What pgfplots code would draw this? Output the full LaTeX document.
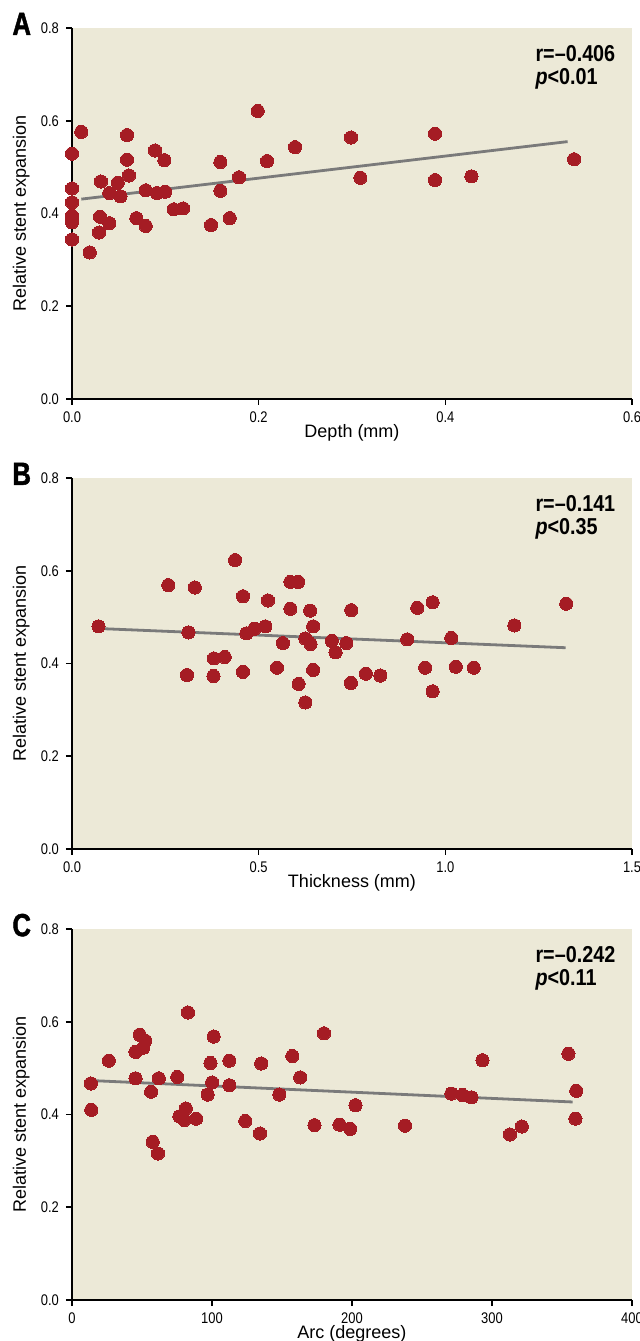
\documentclass[border=0pt]{standalone}
\usepackage{fontspec}
\setmainfont{Liberation Sans}
\newfontfamily\tickfont[FakeStretch=0.84]{Liberation Sans}
\newfontfamily\statfont[FakeStretch=0.86]{Liberation Sans}
\newfontfamily\letterfont[FakeStretch=0.8, FakeBold=1.5]{Liberation Sans}
\usepackage{pgfplots}
\pgfplotsset{compat=1.18}
\definecolor{bg}{RGB}{236,233,215}
\definecolor{dot}{RGB}{165,28,36}
\definecolor{fitline}{RGB}{122,122,122}
\pgfplotsset{panel/.style={
  scale only axis, width=280pt, height=185.5pt,
  axis lines*=left,
  axis line style={line width=1pt, black},
  axis background/.style={fill=bg},
  ymin=0, ymax=0.8, ytick={0,0.2,0.4,0.6,0.8},
  tick align=outside, major tick length=3pt,
  tick style={line width=0.8pt, black},
  yticklabel style={/pgf/number format/.cd, fixed, fixed zerofill, precision=1},
  ticklabel style={font=\tickfont\fontsize{7.7}{9}\selectfont},
  /pgf/number format/assume math mode=true,
  ylabel={Relative stent expansion},
  ylabel style={font=\fontsize{9}{10}\selectfont, at={(axis description cs:-0.075,0.5)}, anchor=south, inner sep=0pt},
  xlabel style={font=\fontsize{9}{10}\selectfont, at={(axis description cs:0.5,0)}, anchor=north, inner sep=0pt, yshift=-12.5pt},
  clip=false,
}}
\pgfplotsset{dots/.style={only marks, color=dot, mark=*, mark size=3.3pt, mark options={fill=dot, draw=dot, line width=0pt}}}
\pgfplotsset{fit/.style={fitline, line width=1.4pt, no marks}}
\newcommand{\stat}[2]{\node[anchor=north west, align=left, inner sep=0pt, font=\statfont\bfseries\fontsize{11.5}{11.5}\selectfont] at (axis description cs:0.827,0.955) {r=–#1\\[0pt]\textit{p}<#2};}
\newcommand{\panelletter}[1]{\node[anchor=north west, inner sep=0pt, font=\letterfont\bfseries\fontsize{16}{16}\selectfont] at (axis description cs:-0.107,1.042) {#1};}
\begin{document}
\begin{tikzpicture}
\path[use as bounding box] (0,0) rectangle (319.5pt,670.5pt);
% Panel A
\begin{axis}[panel, at={(36pt,471pt)}, anchor=south west,
  xmin=0, xmax=0.6, xtick={0,0.2,0.4,0.6},
  xticklabel style={/pgf/number format/.cd, fixed, fixed zerofill, precision=1},
  xlabel={Depth (mm)}]
\addplot[fit] coordinates {(0.01,0.431) (0.531,0.555)};
\addplot[dots] coordinates {
(0.010,0.576) (0.000,0.529) (0.000,0.454) (0.000,0.424) (0.000,0.395) (0.000,0.381) (0.000,0.344)
(0.019,0.316) (0.031,0.469) (0.030,0.393) (0.029,0.359) (0.040,0.444) (0.040,0.379) (0.049,0.466)
(0.052,0.437) (0.059,0.569) (0.059,0.516) (0.061,0.482) (0.069,0.390) (0.079,0.450) (0.079,0.373)
(0.089,0.536) (0.091,0.444) (0.099,0.515) (0.100,0.447) (0.109,0.409) (0.119,0.411) (0.149,0.375)
(0.159,0.511) (0.159,0.449) (0.169,0.390) (0.179,0.478) (0.199,0.621) (0.209,0.513) (0.239,0.543)
(0.299,0.564) (0.309,0.477) (0.389,0.572) (0.389,0.472) (0.428,0.480) (0.538,0.517)};
\stat{0.406}{0.01}
\panelletter{A}
\end{axis}
% Panel B
\begin{axis}[panel, at={(36pt,246pt)}, anchor=south west,
  xmin=0, xmax=1.5, xtick={0,0.5,1,1.5},
  xticklabel style={/pgf/number format/.cd, fixed, fixed zerofill, precision=1},
  xlabel={Thickness (mm)}]
\addplot[fit] coordinates {(0.0845,0.475) (1.322,0.434)};
\addplot[dots] coordinates {
(0.071,0.480) (0.258,0.569) (0.329,0.564) (0.312,0.467) (0.308,0.375) (0.379,0.373) (0.380,0.411)
(0.409,0.414) (0.437,0.623) (0.458,0.545) (0.458,0.382) (0.467,0.465) (0.489,0.475) (0.518,0.480)
(0.525,0.536) (0.549,0.391) (0.565,0.444) (0.585,0.576) (0.606,0.576) (0.585,0.518) (0.607,0.356)
(0.625,0.316) (0.625,0.454) (0.639,0.442) (0.638,0.514) (0.646,0.480) (0.646,0.386) (0.696,0.449)
(0.706,0.424) (0.735,0.444) (0.748,0.515) (0.747,0.358) (0.787,0.378) (0.826,0.374) (0.898,0.452)
(0.925,0.520) (0.966,0.532) (0.946,0.391) (0.966,0.340) (1.016,0.455) (1.028,0.393) (1.076,0.391)
(1.185,0.482) (1.324,0.529)};
\stat{0.141}{0.35}
\panelletter{B}
\end{axis}
% Panel C
\begin{axis}[panel, at={(36pt,20.5pt)}, anchor=south west,
  xmin=0, xmax=400, xtick={0,100,200,300,400},
  xlabel={Arc (degrees)}]
\addplot[fit] coordinates {(15.2,0.473) (357.6,0.427)};
\addplot[dots] coordinates {
(13.5,0.467) (13.8,0.410) (26.3,0.516) (45.4,0.535) (45.4,0.478) (48.3,0.572) (52.4,0.559)
(50.9,0.544) (56.5,0.449) (57.6,0.341) (61.4,0.316) (62.0,0.478) (75.2,0.481) (76.7,0.396)
(80.2,0.388) (81.3,0.413) (82.8,0.620) (88.7,0.391) (96.9,0.443) (98.9,0.511) (100.1,0.469)
(101.2,0.568) (112.4,0.516) (112.4,0.463) (123.8,0.386) (134.3,0.359) (135.2,0.510) (148.1,0.443)
(157.4,0.526) (163.0,0.480) (173.2,0.377) (180.0,0.575) (191.1,0.378) (198.7,0.369) (202.5,0.420)
(237.9,0.376) (271.0,0.445) (278.9,0.442) (285.3,0.437) (293.2,0.517) (312.8,0.357) (321.3,0.374)
(354.6,0.531) (360.2,0.451) (359.6,0.391)};
\stat{0.242}{0.11}
\panelletter{C}
\end{axis}
\end{tikzpicture}
\end{document}
